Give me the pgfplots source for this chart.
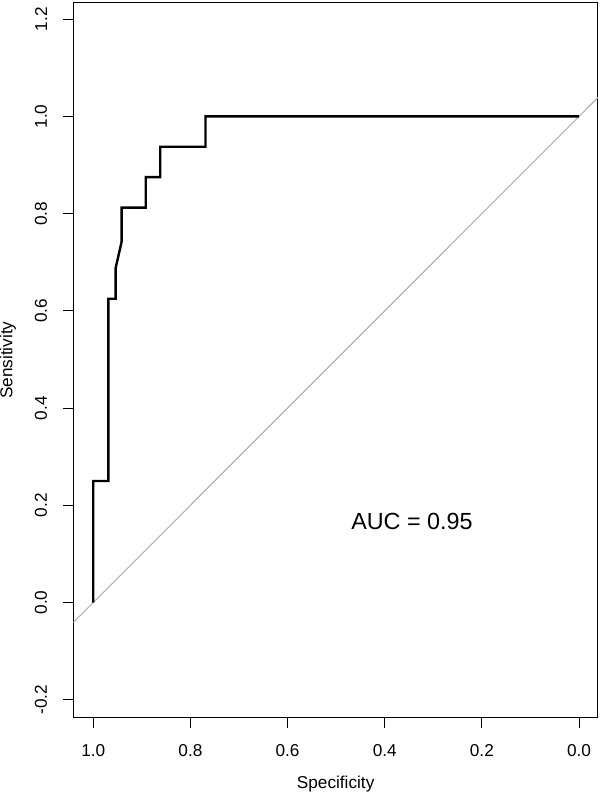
\documentclass[border=0pt]{standalone}
\usepackage{fontspec}
\setmainfont{Liberation Sans}
\usepackage{pgfplots}
\pgfplotsset{compat=1.18}
\begin{document}
\begin{tikzpicture}
\useasboundingbox (-55pt,-57.2pt) rectangle (395pt,538.3pt);
\begin{axis}[
  at={(0,0)}, anchor=south west,
  scale only axis, width=393.5pt, height=536.3pt,
  x dir=reverse,
  xmin=-0.039, xmax=1.041, ymin=-0.237, ymax=1.234,
  xtick={0,0.2,0.4,0.6,0.8,1.0},
  ytick={-0.2,0,0.2,0.4,0.6,0.8,1.0,1.2},
  xtick pos=bottom, ytick pos=left,
  tick align=outside, major tick length=7.5pt,
  tick style={black, line width=0.75pt},
  axis line style={black, line width=0.75pt},
  /pgf/number format/assume math mode=true,
  /pgf/number format/fixed, /pgf/number format/fixed zerofill,
  /pgf/number format/precision=1,
  ticklabel style={font=\fontsize{12.9}{15}\selectfont},
  xticklabel style={anchor=north, inner sep=0pt},
  yticklabel style={rotate=90, anchor=south, inner sep=0pt},
  xticklabel shift=12pt, yticklabel shift=12pt,
  xlabel={Specificity}, ylabel={Sensitivity},
  label style={font=\fontsize{12.9}{15}\selectfont},
  xlabel style={at={(rel axis cs:0.5,0)}, anchor=north, inner sep=0pt, yshift=-43.7pt},
  ylabel style={at={(rel axis cs:0,0.5)}, anchor=center, inner sep=0pt, yshift=49pt},
]
\addplot[color={rgb,255:red,169;green,169;blue,169}, line width=0.75pt] coordinates {(1.1,-0.1) (-0.1,1.1)};
\addplot[black, line width=1.8pt, line join=miter] coordinates {
(1,0) (1,0.25) (0.969,0.25) (0.969,0.625) (0.954,0.625) (0.954,0.6875)
(0.9415,0.7425) (0.9415,0.8125) (0.892,0.8125) (0.892,0.875) (0.862,0.875)
(0.862,0.9375) (0.769,0.9375) (0.769,1) (0,1)};
\node[font=\fontsize{17.5}{20}\selectfont] at (axis cs:0.344,0.167) {AUC = 0.95};
\end{axis}
\end{tikzpicture}
\end{document}
